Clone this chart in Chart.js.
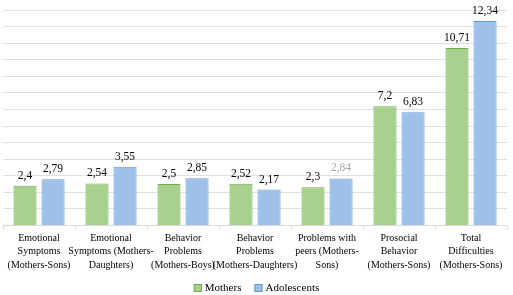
<!DOCTYPE html>
<html>
<head>
<meta charset="utf-8">
<script src="https://cdn.jsdelivr.net/npm/chart.js@4.4.1/dist/chart.umd.min.js"></script>
<style>
  html, body { margin: 0; padding: 0; background: #fff; }
  #wrap { width: 513px; height: 295px; }
</style>
</head>
<body>
<div id="wrap"><canvas id="chart"></canvas></div>
<script>
// Categories (multi-line labels as in the original)
const categories = [
  ["Emotional", "Symptoms", "(Mothers-Sons)"],
  ["Emotional", "Symptoms (Mothers-", "Daughters)"],
  ["Behavior", "Problems", "(Mothers-Boys)"],
  ["Behavior", "Problems", "(Mothers-Daughters)"],
  ["Problems with", "peers (Mothers-", "Sons)"],
  ["Prosocial", "Behavior", "(Mothers-Sons)"],
  ["Total", "Difficulties", "(Mothers-Sons)"]
];
const mothers = [2.4, 2.54, 2.5, 2.52, 2.3, 7.2, 10.71];
const adolescents = [2.79, 3.55, 2.85, 2.17, 2.84, 6.83, 12.34];
const yMax = 13;

const SERIF = "'Liberation Serif', 'Times New Roman', serif";

// Draws the value above each bar, using a comma as decimal separator
const valueLabels = {
  id: "valueLabels",
  afterDatasetsDraw(chart) {
    const ctx = chart.ctx;
    ctx.save();
    ctx.font = "11.5px " + SERIF;
    ctx.textAlign = "center";
    ctx.textBaseline = "alphabetic";
    chart.data.datasets.forEach((ds, i) => {
      chart.getDatasetMeta(i).data.forEach((bar, j) => {
        ctx.fillStyle = (ds.labelColors && ds.labelColors[j]) || "#000";
        ctx.fillText(String(ds.data[j]).replace(".", ","), bar.x, bar.y - 7);
      });
    });
    ctx.restore();
  }
};

// Small legend at the bottom, spaced like the original
const bottomLegend = {
  id: "bottomLegend",
  afterDraw(chart) {
    const ctx = chart.ctx;
    const box = 8, gap = 3, itemGap = 13, y = 288;
    ctx.save();
    ctx.font = "11px " + SERIF;
    ctx.textBaseline = "middle";
    const items = chart.data.datasets.map(ds => ({
      ds, w: box + gap + ctx.measureText(ds.label).width
    }));
    const total = items.reduce((s, it) => s + it.w, 0) + itemGap * (items.length - 1);
    let x = (chart.width - total) / 2;
    items.forEach(it => {
      ctx.fillStyle = it.ds.backgroundColor;
      ctx.fillRect(x, y - box / 2, box, box);
      ctx.strokeStyle = it.ds.borderColor;
      ctx.lineWidth = 1;
      ctx.strokeRect(x + 0.5, y - box / 2 + 0.5, box - 1, box - 1);
      ctx.fillStyle = "#000";
      ctx.fillText(it.ds.label, x + box + gap, y + 0.5);
      x += it.w + itemGap;
    });
    ctx.restore();
  }
};

new Chart(document.getElementById("chart").getContext("2d"), {
  type: "bar",
  data: {
    labels: categories,
    datasets: [
      {
        label: "Mothers",
        data: mothers,
        backgroundColor: "#a9d18e",
        borderColor: "#70ad47",
        borderWidth: 1
      },
      {
        label: "Adolescents",
        data: adolescents,
        backgroundColor: "#9fc0e8",
        borderColor: "#5b9bd5",
        borderWidth: 1,
        labelColors: ["#000", "#000", "#000", "#000", "#a6a6a6", "#000", "#000"]
      }
    ]
  },
  options: {
    responsive: true,
    maintainAspectRatio: false,
    animation: false,
    layout: { padding: { top: 10, left: 3, right: 6, bottom: 21 } },
    datasets: {
      bar: { categoryPercentage: 0.78, barPercentage: 0.82 }
    },
    scales: {
      x: {
        grid: {
          display: true,
          drawOnChartArea: false,
          offset: true,
          tickLength: 4,
          color: "#d9d9d9"
        },
        border: { color: "#d9d9d9" },
        ticks: {
          color: "#000",
          font: { family: SERIF, size: 10, lineHeight: 1.35 },
          maxRotation: 0,
          autoSkip: false,
          padding: 2
        }
      },
      y: {
        min: 0,
        max: yMax,
        ticks: { display: false, stepSize: 1 },
        grid: { color: "#e0e0e0", drawTicks: false },
        border: { display: false }
      }
    },
    plugins: {
      legend: { display: false },
      tooltip: { enabled: false }
    }
  },
  plugins: [valueLabels, bottomLegend]
});
</script>
</body>
</html>
